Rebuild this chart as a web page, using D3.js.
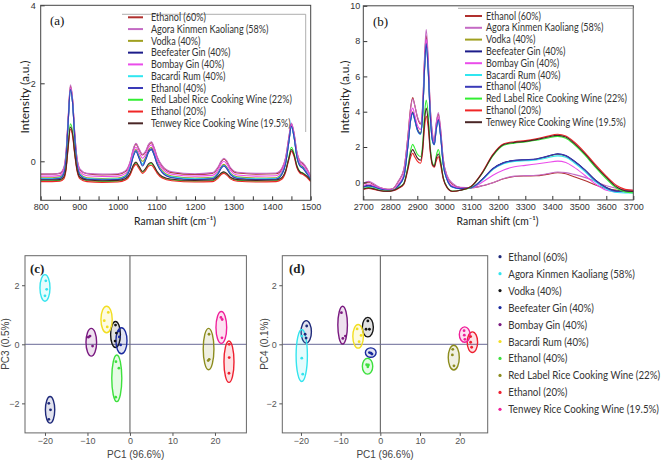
<!DOCTYPE html>
<html><head><meta charset="utf-8">
<script src="https://cdn.jsdelivr.net/npm/d3@7"></script>
<style>body{margin:0;background:#fff;} svg{display:block}</style>
</head><body>
<svg id="chart" width="661" height="460"></svg>
<script>
// ---------------- DATA ----------------
const sampleNames = ["Ethanol (60%)", "Agora Kinmen Kaoliang (58%)", "Vodka (40%)", "Beefeater Gin (40%)",
  "Bombay Gin (40%)", "Bacardi Rum (40%)", "Ethanol (40%)", "Red Label Rice Cooking Wine (22%)",
  "Ethanol (20%)", "Tenwey Rice Cooking Wine (19.5%)"];

// Raman shift (cm-1) sampling points
const shiftA = [800, 830, 850, 860, 866, 871, 877, 883, 888, 894, 902, 920, 960, 1000, 1020, 1032, 1040, 1047, 1055, 1064, 1072, 1080, 1087, 1094, 1102, 1115, 1140, 1200, 1245, 1260, 1268, 1275, 1283, 1292, 1310, 1360, 1410, 1425, 1435, 1443, 1450, 1457, 1464, 1472, 1480, 1490, 1500];
const shiftB = [2700, 2720, 2740, 2760, 2790, 2810, 2830, 2850, 2865, 2875, 2883, 2890, 2900, 2912, 2920, 2927, 2933, 2940, 2948, 2956, 2963, 2970, 2978, 2986, 2996, 3010, 3030, 3060, 3100, 3140, 3180, 3220, 3260, 3300, 3340, 3380, 3420, 3450, 3480, 3520, 3560, 3600, 3640, 3670, 3700];

// Panel (a) intensities
const a_eth60   = [-0.33,-0.33,-0.31,-0.18,0.25,1.05,1.92,1.55,0.75,0.08,-0.22,-0.32,-0.35,-0.34,-0.26,-0.02,0.30,0.44,0.30,0.16,0.24,0.42,0.48,0.34,0.10,-0.13,-0.29,-0.34,-0.31,-0.16,-0.01,0.06,-0.02,-0.18,-0.30,-0.33,-0.32,-0.20,0.08,0.58,0.96,0.70,0.24,0.00,-0.06,-0.20,-0.40];
const a_agora   = [-0.32,-0.33,-0.30,-0.16,0.28,1.10,1.96,1.58,0.78,0.10,-0.20,-0.31,-0.33,-0.32,-0.24,0.00,0.32,0.46,0.32,0.18,0.26,0.44,0.50,0.36,0.12,-0.11,-0.27,-0.32,-0.29,-0.14,0.01,0.08,0.00,-0.16,-0.28,-0.31,-0.30,-0.18,0.10,0.60,0.98,0.72,0.26,0.02,-0.04,-0.18,-0.38];
const a_vodka   = [-0.42,-0.42,-0.40,-0.28,0.15,0.98,1.85,1.48,0.66,-0.02,-0.32,-0.42,-0.44,-0.43,-0.36,-0.12,0.18,0.30,0.14,0.00,0.10,0.30,0.36,0.22,-0.02,-0.24,-0.38,-0.43,-0.41,-0.28,-0.14,-0.08,-0.16,-0.30,-0.40,-0.43,-0.42,-0.30,-0.02,0.50,0.92,0.64,0.16,-0.08,-0.14,-0.28,-0.44];
const a_beef    = [-0.45,-0.45,-0.43,-0.31,0.12,0.95,1.82,1.45,0.63,-0.05,-0.35,-0.45,-0.47,-0.46,-0.39,-0.16,0.14,0.27,0.10,-0.08,0.06,0.26,0.32,0.18,-0.06,-0.28,-0.41,-0.46,-0.44,-0.31,-0.16,-0.10,-0.18,-0.33,-0.43,-0.46,-0.45,-0.33,-0.04,0.48,0.90,0.62,0.14,-0.10,-0.16,-0.30,-0.46];
const a_bombay  = [-0.38,-0.38,-0.36,-0.23,0.20,1.02,1.88,1.52,0.70,0.03,-0.27,-0.37,-0.39,-0.38,-0.31,-0.06,0.24,0.36,0.22,0.08,0.17,0.36,0.42,0.28,0.04,-0.18,-0.33,-0.38,-0.36,-0.22,-0.06,0.00,-0.08,-0.23,-0.35,-0.38,-0.37,-0.25,0.03,0.54,0.94,0.67,0.20,-0.04,-0.10,-0.24,-0.42];
const a_bacardi = [-0.44,-0.44,-0.42,-0.30,0.13,0.96,1.83,1.46,0.64,-0.04,-0.34,-0.44,-0.46,-0.45,-0.38,-0.15,0.14,0.26,0.10,-0.08,0.05,0.24,0.30,0.17,-0.06,-0.27,-0.40,-0.45,-0.43,-0.30,-0.17,-0.11,-0.19,-0.32,-0.42,-0.45,-0.44,-0.32,-0.05,0.46,0.88,0.60,0.13,-0.11,-0.17,-0.30,-0.45];
const a_eth40   = [-0.46,-0.46,-0.44,-0.32,0.11,0.96,1.84,1.46,0.63,-0.06,-0.36,-0.46,-0.48,-0.47,-0.40,-0.18,0.12,0.25,0.08,-0.12,0.03,0.24,0.30,0.16,-0.08,-0.29,-0.42,-0.47,-0.45,-0.32,-0.18,-0.12,-0.20,-0.34,-0.44,-0.47,-0.46,-0.34,-0.06,0.47,0.90,0.61,0.12,-0.12,-0.18,-0.32,-0.47];
const a_redlab  = [-0.50,-0.50,-0.49,-0.42,-0.15,0.40,0.96,0.74,0.25,-0.20,-0.42,-0.50,-0.52,-0.51,-0.46,-0.32,-0.12,-0.04,-0.15,-0.28,-0.20,-0.08,-0.06,-0.14,-0.28,-0.41,-0.48,-0.51,-0.50,-0.40,-0.31,-0.28,-0.33,-0.42,-0.49,-0.51,-0.50,-0.43,-0.24,0.10,0.36,0.20,-0.10,-0.26,-0.30,-0.38,-0.50];
const a_eth20   = [-0.52,-0.52,-0.51,-0.45,-0.20,0.32,0.82,0.62,0.19,-0.24,-0.45,-0.52,-0.54,-0.53,-0.48,-0.35,-0.16,-0.08,-0.19,-0.31,-0.24,-0.12,-0.10,-0.18,-0.31,-0.43,-0.50,-0.53,-0.52,-0.43,-0.34,-0.31,-0.36,-0.45,-0.51,-0.53,-0.52,-0.46,-0.28,0.03,0.25,0.12,-0.16,-0.30,-0.34,-0.41,-0.52];
const a_tenwey  = [-0.48,-0.48,-0.47,-0.40,-0.16,0.36,0.88,0.68,0.22,-0.20,-0.41,-0.48,-0.50,-0.49,-0.44,-0.30,-0.10,-0.02,-0.13,-0.26,-0.18,-0.06,-0.03,-0.12,-0.26,-0.39,-0.46,-0.49,-0.48,-0.38,-0.30,-0.27,-0.32,-0.41,-0.47,-0.49,-0.48,-0.42,-0.25,0.06,0.30,0.16,-0.12,-0.27,-0.31,-0.38,-0.49];

// Panel (b) intensities
const b_eth60   = [-0.10,0.00,-0.15,-0.30,-0.40,-0.35,0.05,0.70,2.60,4.20,4.80,4.40,3.70,3.30,4.30,7.00,8.30,6.90,4.20,2.70,2.30,3.30,3.85,3.00,1.30,0.35,-0.10,-0.30,-0.30,-0.20,-0.02,0.20,0.33,0.36,0.37,0.45,0.54,0.48,0.32,0.10,-0.15,-0.35,-0.45,-0.50,-0.50];
const b_agora   = [-0.05,0.05,-0.10,-0.28,-0.40,-0.35,0.08,0.75,2.55,4.15,4.72,4.40,3.75,3.35,4.45,7.20,8.65,7.20,4.30,2.80,2.35,3.35,3.95,3.10,1.35,0.40,-0.05,-0.28,-0.30,-0.20,-0.02,0.22,0.35,0.38,0.40,0.48,0.58,0.55,0.45,0.28,0.05,-0.20,-0.35,-0.42,-0.45];
const b_vodka   = [-0.25,-0.15,-0.25,-0.35,-0.45,-0.45,-0.15,0.35,2.10,3.55,4.00,3.65,3.05,2.80,3.95,6.60,7.95,6.60,3.90,2.50,2.20,3.05,3.60,2.75,1.10,0.20,-0.25,-0.35,-0.30,0.15,0.75,1.10,1.22,1.26,1.30,1.44,1.58,1.48,1.20,0.70,0.12,-0.30,-0.50,-0.52,-0.52];
const b_beef    = [-0.25,-0.18,-0.25,-0.36,-0.45,-0.45,-0.18,0.32,2.05,3.50,3.95,3.60,3.00,2.75,3.90,6.50,7.85,6.50,3.80,2.40,2.15,3.00,3.55,2.70,1.05,0.18,-0.25,-0.35,-0.30,0.16,0.78,1.12,1.24,1.28,1.32,1.47,1.62,1.52,1.22,0.72,0.12,-0.30,-0.50,-0.50,-0.50];
const b_bombay  = [-0.20,-0.10,-0.20,-0.33,-0.42,-0.42,-0.10,0.45,2.30,3.80,4.20,3.85,3.25,3.00,4.10,6.80,8.10,6.80,4.00,2.60,2.25,3.15,3.70,2.85,1.15,0.25,-0.20,-0.33,-0.30,0.00,0.40,0.70,0.88,0.96,1.04,1.12,1.20,1.12,0.86,0.40,-0.10,-0.45,-0.55,-0.55,-0.55];
const b_bacardi = [-0.30,-0.22,-0.28,-0.38,-0.47,-0.47,-0.20,0.28,2.00,3.45,3.90,3.55,2.95,2.72,3.85,6.40,7.80,6.40,3.75,2.35,2.12,2.95,3.50,2.65,1.00,0.15,-0.28,-0.37,-0.30,0.12,0.72,1.05,1.18,1.22,1.26,1.38,1.50,1.42,1.12,0.62,0.02,-0.38,-0.58,-0.60,-0.60];
const b_eth40   = [-0.28,-0.20,-0.27,-0.37,-0.46,-0.46,-0.19,0.30,2.02,3.48,3.92,3.58,2.98,2.74,3.88,6.45,7.85,6.45,3.78,2.38,2.14,2.98,3.52,2.68,1.02,0.16,-0.27,-0.36,-0.30,0.15,0.76,1.10,1.23,1.27,1.31,1.46,1.60,1.50,1.20,0.70,0.10,-0.32,-0.52,-0.52,-0.52];
const b_redlab  = [-0.35,-0.30,-0.35,-0.45,-0.50,-0.45,-0.30,-0.05,0.90,1.80,2.15,1.95,1.60,1.45,2.20,3.90,4.66,3.90,2.00,1.10,0.95,1.50,1.85,1.30,0.30,-0.25,-0.50,-0.45,-0.25,0.50,1.50,2.10,2.22,2.28,2.38,2.50,2.60,2.50,2.15,1.55,0.85,0.20,-0.35,-0.55,-0.60];
const b_eth20   = [-0.40,-0.35,-0.40,-0.48,-0.52,-0.48,-0.35,-0.12,0.70,1.40,1.65,1.45,1.20,1.08,1.75,3.15,3.75,3.15,1.70,0.95,0.85,1.20,1.45,1.00,0.20,-0.30,-0.52,-0.45,-0.22,0.55,1.58,2.18,2.30,2.36,2.46,2.60,2.72,2.62,2.30,1.70,1.00,0.35,-0.20,-0.40,-0.45];
const b_tenwey  = [-0.38,-0.32,-0.38,-0.46,-0.51,-0.46,-0.32,-0.08,0.80,1.60,1.85,1.68,1.38,1.25,1.95,3.50,4.20,3.50,1.85,1.02,0.90,1.35,1.60,1.15,0.25,-0.28,-0.51,-0.45,-0.23,0.52,1.54,2.14,2.26,2.32,2.42,2.55,2.66,2.56,2.22,1.62,0.92,0.28,-0.28,-0.48,-0.52];

// PCA scores (3 replicates per sample), order = sampleNames
const c_pc1 = [[-19.1,-18.7,-19.1],[-19.8,-19.6,-20.0],[-3.4,-3.2,-3.5],[-2.6,-2.5,-2.2],[-9.8,-9.4,-8.8],[-5.1,-6.05,-5.35],[-3.3,-2.6,-3.35],[18.6,18.65,18.4],[23.35,23.35,23.3],[21.4,21.7,21.65]];
const c_pc3 = [[-2.0,-2.22,-2.54],[2.15,1.86,1.64],[0.65,0.38,0.11],[0.45,0.25,-0.02],[0.24,0.28,-0.06],[1.08,0.80,0.59],[-0.59,-0.81,-1.79],[0.34,-0.51,-0.55],[0.0,-0.45,-0.98],[0.91,0.84,0.22]];
// confidence ellipses [centerPC1, centerPC3, radiusPC1, radiusPC3]
const c_ellipses = [[-18.8,-2.22,1.1,0.45],[-20.0,1.91,1.18,0.45],[-3.4,0.33,1.15,0.44],[-2.0,0.12,1.3,0.44],[-9.1,0.07,1.25,0.47],[-5.5,0.84,1.33,0.45],[-3.1,-1.15,1.18,0.79],[18.5,-0.16,1.26,0.7],[23.3,-0.59,1.18,0.7],[21.5,0.57,1.26,0.54]];

const d_pc1 = [[-18.55,-18.95,-18.7],[-19.8,-19.8,-19.55],[-3.15,-3.6,-2.75],[-2.75,-2.35,-2.1],[-9.8,-9.45,-8.8],[-4.85,-5.35,-5.85],[-3.45,-3.0,-3.15],[18.25,18.15,18.55],[22.75,22.75,23.0],[21.1,21.3,21.15]];
const d_pc4 = [[0.62,0.34,0.21],[0.28,-0.47,-1.01],[0.79,0.51,0.51],[-0.28,-0.30,-0.33],[1.07,0.20,0.28],[0.30,0.09,0.52],[-0.69,-0.70,-0.76],[-0.17,-0.36,-0.73],[0.26,0.07,-0.10],[0.46,0.17,0.31]];
const d_ellipses = [[-18.67,0.42,1.3,0.38],[-19.8,-0.38,1.42,0.88],[-3.15,0.58,1.39,0.33],[-2.42,-0.28,1.35,0.16],[-9.5,0.65,1.21,0.64],[-5.6,0.27,1.33,0.4],[-3.22,-0.74,1.31,0.27],[18.5,-0.45,1.39,0.42],[23.2,0.07,1.31,0.35],[21.25,0.33,1.35,0.26]];

const ticksA_x = [800, 900, 1000, 1100, 1200, 1300, 1400, 1500];
const ticksA_y = [0, 2, 4];
const ticksB_x = [2700, 2800, 2900, 3000, 3100, 3200, 3300, 3400, 3500, 3600, 3700];
const ticksB_y = [0, 2, 4, 6, 8, 10];
const ticksPC_x = [-20, -10, 0, 10, 20];
const ticksPC_y = [-2, 0, 2];

// ---------------- STYLE ----------------
const specColors = ["#b0302e", "#c46ac4", "#a0a020", "#1c1c8a", "#ea4cea", "#30e6f0", "#3a3ab8", "#33ee33", "#f02626", "#4a2626"];
const pcaColors  = ["#1f2a7a", "#33e4ee", "#151515", "#1a2a9e", "#7a1a80", "#f2de22", "#3ee03e", "#8c8c1e", "#ee2030", "#f0209a"];
const UI = "Lato,'Open Sans',sans-serif";
const SANS = "'Liberation Sans',Arial,sans-serif";
const SERIF = "'Liberation Serif','Times New Roman',serif";

const svg = d3.select('#chart');

// compress a group of texts horizontally so the widest one spans `target` px
function fitTexts(sel, x, target) {
  let w = 0;
  sel.each(function () { w = Math.max(w, this.getComputedTextLength()); });
  const k = Math.min(1, target / w);
  sel.attr('x', 0).attr('transform', function () {
    const prev = d3.select(this).attr('data-t') || '';
    return `translate(${x},0) ${prev} scale(${k},1)`;
  });
}
function fitOne(sel, cx, cy, rot, target) {
  const w = sel.node().getComputedTextLength();
  const k = target / w;
  sel.attr('x', 0).attr('y', 0).attr('transform', `translate(${cx},${cy}) rotate(${rot}) scale(${k},1)`);
}

function styleAxis(g, color, size) {
  g.select('.domain').remove();
  g.selectAll('line').attr('stroke', color).attr('stroke-width', 1);
  g.selectAll('text').attr('fill', color).attr('font-family', SANS).attr('font-size', size);
}

function spectrumPanel(cfg) {
  const x = d3.scaleLinear().domain(cfg.xDomain).range(cfg.xRange);
  const y = d3.scaleLinear().domain(cfg.yDomain).range(cfg.yRange);
  const g = svg.append('g');
  const clipId = cfg.id + '-clip';
  g.append('clipPath').attr('id', clipId).append('rect')
    .attr('x', cfg.xRange[0]).attr('y', cfg.yRange[1])
    .attr('width', cfg.xRange[1] - cfg.xRange[0]).attr('height', cfg.yRange[0] - cfg.yRange[1]);
  const line = d3.line().x((d, i) => x(cfg.xs[i])).y(d => y(d)).curve(d3.curveMonotoneX);
  g.append('g').attr('clip-path', `url(#${clipId})`)
    .selectAll('path').data(cfg.series).join('path')
    .attr('d', line).attr('fill', 'none')
    .attr('stroke', (d, i) => specColors[i]).attr('stroke-width', 1.1);

  // axes (inward ticks)
  const ax = g.append('g').attr('transform', `translate(0,${cfg.yRange[0]})`)
    .call(d3.axisBottom(x).tickValues(cfg.xTickVals).tickSize(-4).tickPadding(3.5)
      .tickFormat(d => cfg.xLabels.includes(d) ? d3.format('d')(d) : ''));
  styleAxis(ax, '#333', 9);
  const ay = g.append('g').attr('transform', `translate(${cfg.xRange[0]},0)`)
    .call(d3.axisLeft(y).tickValues(cfg.yLabels).tickSize(-4).tickPadding(cfg.yPad).tickFormat(d3.format('d')));
  styleAxis(ay, '#333', 9);

  g.append('rect').attr('x', cfg.xRange[0]).attr('y', cfg.yRange[1])
    .attr('width', cfg.xRange[1] - cfg.xRange[0]).attr('height', cfg.yRange[0] - cfg.yRange[1])
    .attr('fill', 'none').attr('stroke', '#444').attr('stroke-width', 1);

  // titles
  const tx = g.append('text').attr('text-anchor', 'middle').attr('font-family', UI).attr('font-size', 11.5).attr('fill', '#222')
    .text('Raman shift (cm\u207B\u00B9)');
  fitOne(tx, cfg.xTitleX, 224.5, 0, 82);
  const ty = g.append('text').attr('text-anchor', 'middle').attr('font-family', UI).attr('font-size', 11).attr('fill', '#222')
    .text('Intensity (a.u.)');
  fitOne(ty, cfg.yTitleX, 97, -90, 73);
  g.append('text').attr('x', cfg.labelX).attr('y', cfg.labelY)
    .attr('font-family', SERIF).attr('font-size', 13).attr('fill', '#111').text(cfg.label);

  // legend
  const lg = g.append('g');
  lg.append('path').attr('d', `M${cfg.legBox[0]},${cfg.legBox[1]}H${cfg.legBox[2]}V${cfg.legBox[3]}`)
    .attr('fill', 'none').attr('stroke', '#999').attr('stroke-width', 0.8);
  const items = lg.selectAll('g.item').data(sampleNames).join('g')
    .attr('transform', (d, i) => `translate(0,${cfg.legY0 + i * cfg.legDy})`);
  items.append('line').attr('x1', cfg.legLine[0]).attr('x2', cfg.legLine[1])
    .attr('stroke', (d, i) => specColors[i]).attr('stroke-width', 2);
  const lt = items.append('text').attr('dy', '0.35em')
    .attr('font-family', UI).attr('font-size', 10.5).attr('fill', '#333').text(d => d);
  fitTexts(lt, cfg.legText, 141);
}

spectrumPanel({
  id: 'pa', xs: shiftA,
  series: [a_eth60, a_agora, a_vodka, a_beef, a_bombay, a_bacardi, a_eth40, a_redlab, a_eth20, a_tenwey],
  xDomain: [800, 1500], xRange: [40.7, 310.7], yDomain: [-1, 4], yRange: [200.3, 5.3],
  xTickVals: d3.range(800, 1501, 50), xLabels: ticksA_x, yLabels: ticksA_y, yPad: 5,
  xTitleX: 175, yTitleX: 28.5, label: '(a)', labelX: 50, labelY: 25,
  legBox: [122, 14.3, 305.7, 132], legY0: 17.3, legDy: 11.78, legLine: [128, 143], legText: 151
});
spectrumPanel({
  id: 'pb', xs: shiftB,
  series: [b_eth60, b_agora, b_vodka, b_beef, b_bombay, b_bacardi, b_eth40, b_redlab, b_eth20, b_tenwey],
  xDomain: [2700, 3700], xRange: [363.3, 633.3], yDomain: [-1, 10], yRange: [199.95, 5.8],
  xTickVals: ticksB_x, xLabels: ticksB_x, yLabels: ticksB_y, yPad: 3,
  xTitleX: 497.5, yTitleX: 348.5, label: '(b)', labelX: 373, labelY: 26,
  legBox: [458, 8.3, 633.3, 130], legY0: 16, legDy: 11.8, legLine: [465, 482], legText: 486
});

// ---------------- PCA panels ----------------
function pcaPanel(cfg) {
  const x = d3.scaleLinear().domain(cfg.xDomain).range(cfg.xRange);
  const y = d3.scaleLinear().domain([-3, 3]).range([432.9, 255.7]);
  const g = svg.append('g');
  const clipId = cfg.id + '-clip';
  g.append('clipPath').attr('id', clipId).append('rect')
    .attr('x', cfg.xRange[0]).attr('y', 255.7).attr('width', cfg.xRange[1] - cfg.xRange[0]).attr('height', 177.2);

  // zero lines
  g.append('line').attr('x1', x(0)).attr('x2', x(0)).attr('y1', 255.7).attr('y2', 432.9)
    .attr('stroke', '#555').attr('stroke-width', 1);
  g.append('line').attr('x1', cfg.xRange[0]).attr('x2', cfg.xRange[1]).attr('y1', y(0)).attr('y2', y(0))
    .attr('stroke', '#6a6a96').attr('stroke-width', 1);

  const cl = g.append('g').attr('clip-path', `url(#${clipId})`);
  cl.selectAll('ellipse').data(cfg.ell).join('ellipse')
    .attr('cx', d => x(d[0])).attr('cy', d => y(d[1]))
    .attr('rx', d => x(d[0] + d[2]) - x(d[0])).attr('ry', d => y(d[1] - d[3]) - y(d[1]))
    .attr('fill', (d, i) => pcaColors[i]).attr('fill-opacity', 0.13)
    .attr('stroke', (d, i) => pcaColors[i]).attr('stroke-width', 1.4);
  cfg.px.forEach((xs, i) => {
    cl.selectAll(null).data(xs).join('circle')
      .attr('cx', d => x(d)).attr('cy', (d, j) => y(cfg.py[i][j])).attr('r', 1.4)
      .attr('fill', pcaColors[i]);
  });

  g.append('rect').attr('x', cfg.xRange[0]).attr('y', 255.7)
    .attr('width', cfg.xRange[1] - cfg.xRange[0]).attr('height', 177.2)
    .attr('fill', 'none').attr('stroke', '#666').attr('stroke-width', 1);

  const ax = g.append('g').attr('transform', 'translate(0,432.9)')
    .call(d3.axisBottom(x).tickValues(ticksPC_x).tickSize(3).tickPadding(2).tickFormat(d3.format('d')));
  styleAxis(ax, '#555', 9);
  const ay = g.append('g').attr('transform', `translate(${cfg.xRange[0]},0)`)
    .call(d3.axisLeft(y).tickValues(ticksPC_y).tickSize(3).tickPadding(2.5).tickFormat(d3.format('d')));
  styleAxis(ay, '#555', 9);

  g.append('text').attr('x', (cfg.xRange[0] + cfg.xRange[1]) / 2).attr('y', 457.5)
    .attr('text-anchor', 'middle').attr('font-family', SANS).attr('font-size', 10).attr('fill', '#444')
    .text('PC1 (96.6%)');
  g.append('text').attr('transform', `translate(${cfg.yTitleX},344) rotate(-90)`)
    .attr('text-anchor', 'middle').attr('font-family', SANS).attr('font-size', 10).attr('fill', '#444')
    .text(cfg.yTitle);
  g.append('text').attr('x', cfg.labelX).attr('y', 273)
    .attr('font-family', SERIF).attr('font-size', 13).attr('font-weight', 'bold').attr('fill', '#222').text(cfg.label);
}

pcaPanel({ id: 'pc', xDomain: [-24.7, 27.4], xRange: [25, 246.4], ell: c_ellipses, px: c_pc1, py: c_pc3,
  yTitle: 'PC3 (0.5%)', yTitleX: 8.5, label: '(c)', labelX: 30 });
pcaPanel({ id: 'pd', xDomain: [-24.7, 27.05], xRange: [282.3, 487.7], ell: d_ellipses, px: d_pc1, py: d_pc4,
  yTitle: 'PC4 (0.1%)', yTitleX: 267.5, label: '(d)', labelX: 289 });

// bottom-right legend
const bl = svg.append('g').selectAll('g').data(sampleNames).join('g')
  .attr('transform', (d, i) => `translate(0,${256.7 + i * 16.96})`);
bl.append('circle').attr('cx', 500).attr('cy', 0).attr('r', 1.6).attr('fill', (d, i) => pcaColors[i]);
const blt = bl.append('text').attr('dy', '0.35em').attr('font-family', UI).attr('font-size', 11.5)
  .attr('fill', '#333').text(d => d);
fitTexts(blt, 508.3, 152);
</script>
</body></html>
